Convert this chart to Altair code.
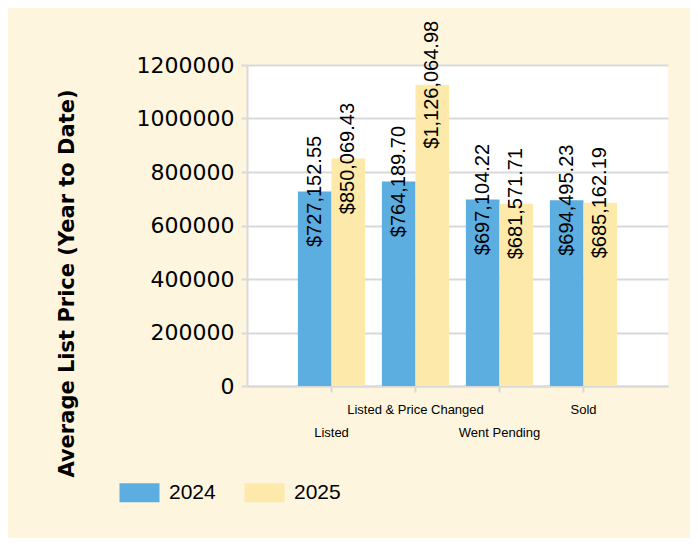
import altair as alt
import pandas as pd

categories = ["Listed", "Listed & Price Changed", "Went Pending", "Sold"]
values_2024 = [727152.55, 764189.70, 697104.22, 694495.23]
values_2025 = [850069.43, 1126064.98, 681571.71, 685162.19]
years = ["2024", "2025"]

rows = []
for c, a, b in zip(categories, values_2024, values_2025):
    rows.append({"category": c, "year": years[0], "value": a})
    rows.append({"category": c, "year": years[1], "value": b})
df = pd.DataFrame(rows)

BLUE = "#5CAEE0"
YELLOW = "#FDE9A9"
BEIGE = "#FDF5DE"
GRID = "#D9D9D9"

color = alt.Color(
    "year:N",
    scale=alt.Scale(domain=years, range=[BLUE, YELLOW]),
    legend=alt.Legend(
        title=None,
        orient="none",
        direction="horizontal",
        legendX=-128,
        legendY=417,
        symbolType="M-1,-0.95H3V0.95H-1Z",
        symbolSize=400,
        symbolStrokeWidth=0,
        symbolOpacity=1,
        labelFont="Liberation Sans",
        labelFontSize=21,
        labelColor="#000000",
        labelOffset=29,
        columnPadding=28,
        padding=0,
    ),
)

x = alt.X(
    "category:N",
    sort=categories,
    scale=alt.Scale(paddingInner=0.2, paddingOuter=0.606),
    axis=alt.Axis(
        title=None,
        labelAngle=0,
        labelFont="Liberation Sans",
        labelFontSize=13,
        labelColor="#000000",
        labelBaseline="top",
        labelPadding={
            "condition": {
                "test": "datum.value == 'Listed' || datum.value == 'Went Pending'",
                "value": 34,
            },
            "value": 11,
        },
        domainColor=GRID,
        domainWidth=2,
        tickColor=GRID,
        tickWidth=2,
        tickSize=6,
        grid=False,
    ),
)

y = alt.Y(
    "value:Q",
    scale=alt.Scale(domain=[0, 1200000], nice=False),
    axis=alt.Axis(
        title="Average List Price (Year to Date)",
        titleFont="DejaVu Sans",
        titleFontSize=21,
        titleFontWeight="bold",
        titleColor="#000000",
        titleAngle=270,
        titleX=-180,
        titleY=218,
        titleAlign="center",
        titleBaseline="middle",
        values=[0, 200000, 400000, 600000, 800000, 1000000, 1200000],
        format="d",
        labelFont="DejaVu Sans",
        labelFontSize=22,
        labelColor="#000000",
        labelPadding=7,
        domainColor=GRID,
        domainWidth=2,
        tickColor=GRID,
        tickWidth=2,
        tickSize=6,
        grid=True,
        gridColor=GRID,
        gridWidth=2,
    ),
)

bars = alt.Chart(df).mark_bar(opacity=1).encode(
    x=x,
    xOffset=alt.XOffset("year:N", sort=years, scale=alt.Scale(paddingInner=0, paddingOuter=0)),
    y=y,
    color=color,
)

labels = alt.Chart(df).transform_calculate(
    label="'$' + format(datum.value, ',.2f')"
).mark_text(
    angle=270,
    align="center",
    baseline="middle",
    font="Liberation Sans",
    fontSize=20,
    color="#000000",
).encode(
    x=alt.X("category:N", sort=categories),
    xOffset=alt.XOffset("year:N", sort=years),
    y=alt.Y("value:Q"),
    text="label:N",
)

chart = alt.layer(bars, labels).properties(
    width=421,
    height=321,
    autosize=alt.AutoSizeParams(type="none"),
    padding={"left": 239, "top": 57, "right": 22, "bottom": 152},
    background=BEIGE,
).configure_view(
    fill="#FFFFFF",
    stroke=None,
)

chart.save("out.html", embed_options={"renderer": "svg", "actions": False})
